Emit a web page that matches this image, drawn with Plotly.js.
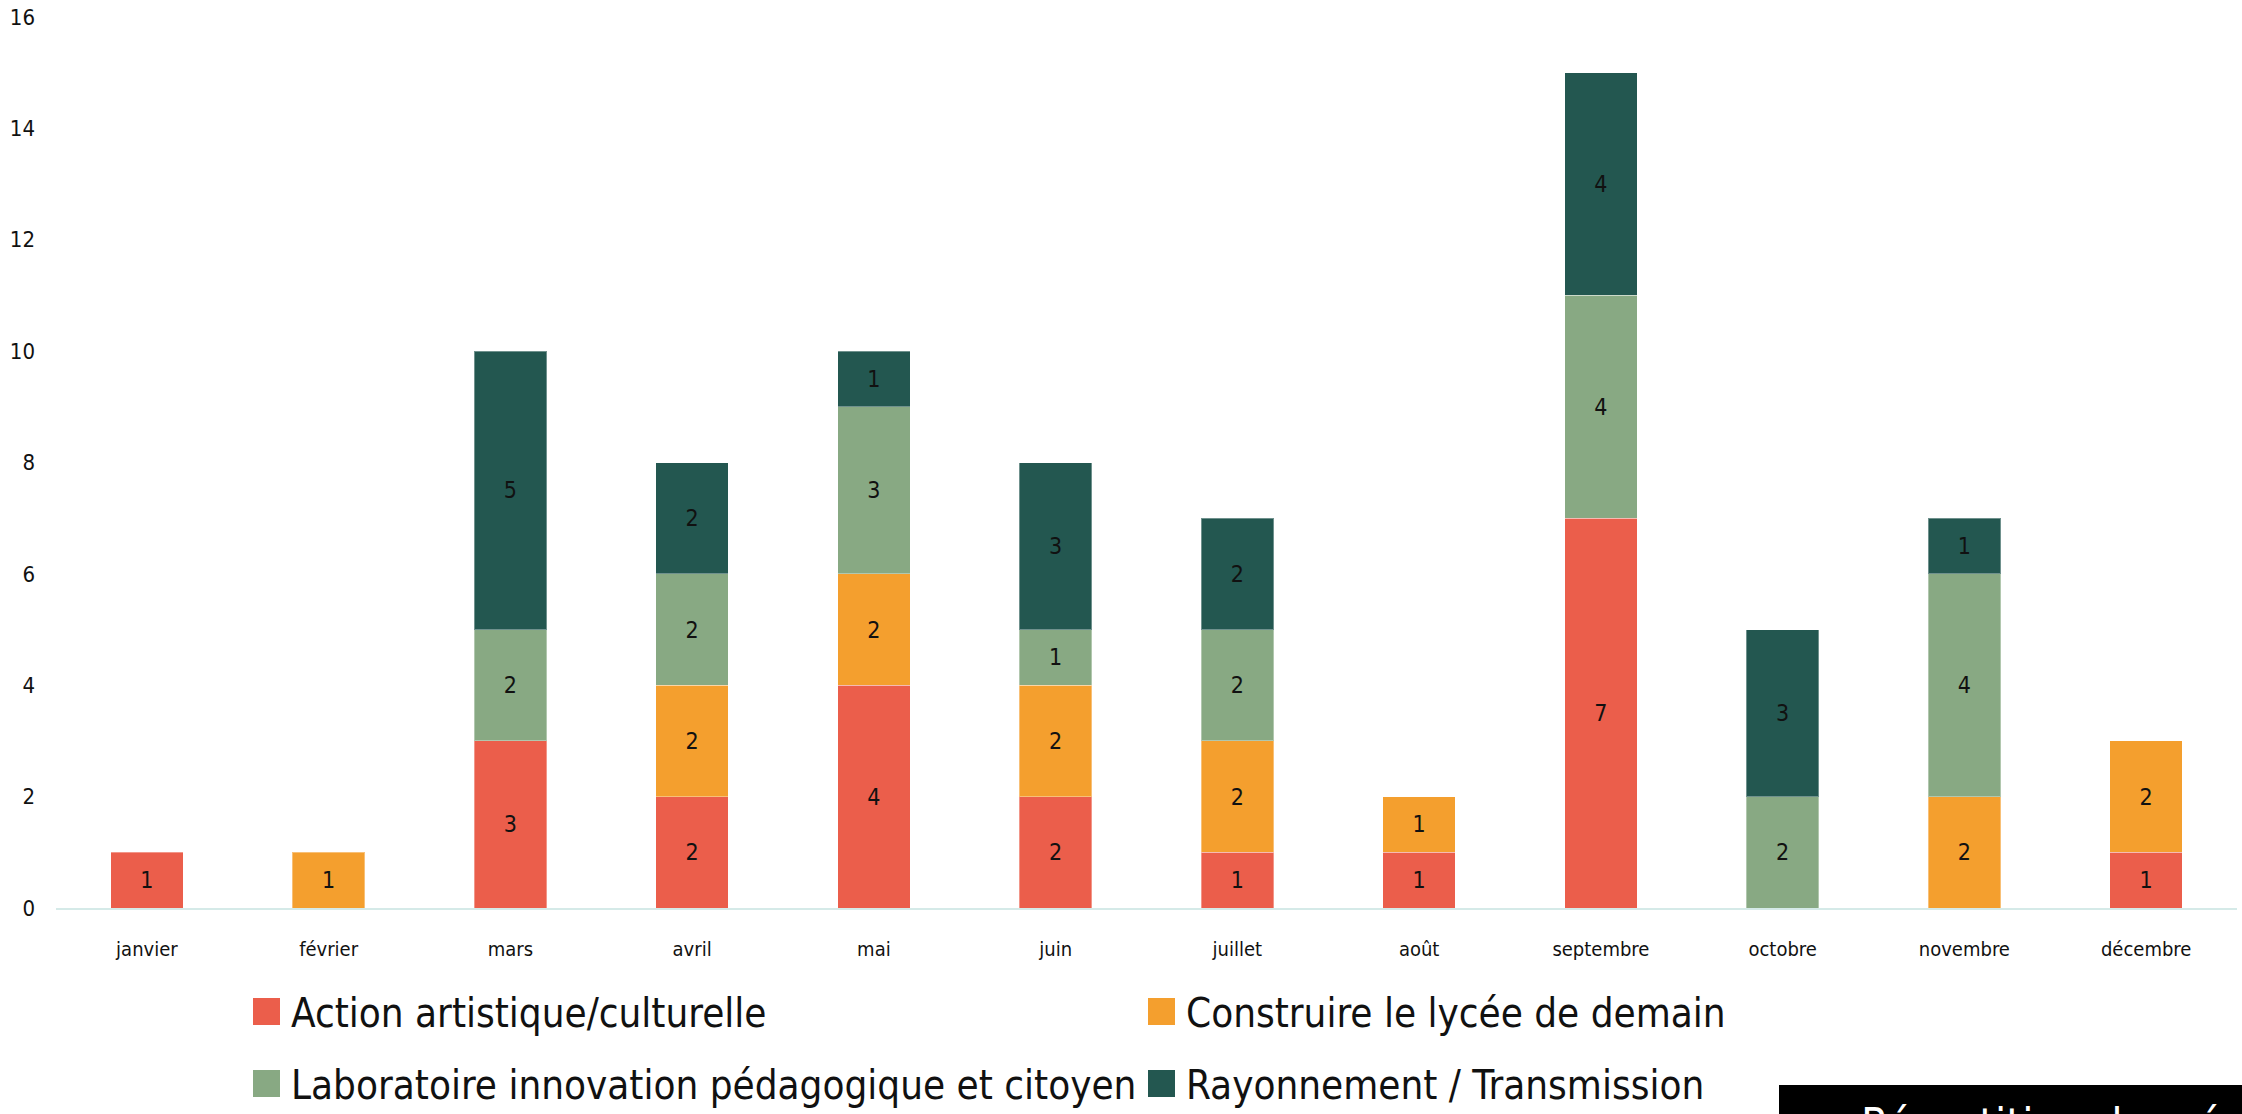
<!DOCTYPE html>
<html>
<head>
<meta charset="utf-8">
<script src="https://cdn.plot.ly/plotly-3.0.1.min.js"></script>
<style>html,body{margin:0;padding:0;background:#fff;}#chart{width:2242px;height:1114px;}</style>
</head>
<body>
<div id="chart"></div>
<script>
const months = ["janvier","février","mars","avril","mai","juin","juillet","août","septembre","octobre","novembre","décembre"];
const seriesNames = ["Action artistique/culturelle","Construire le lycée de demain","Laboratoire innovation pédagogique et citoyen","Rayonnement / Transmission"];
const actionArtistique = [1,null,3,2,4,2,1,1,7,null,null,1];
const construireLycee = [null,1,null,2,2,2,2,1,null,null,2,2];
const laboratoire = [null,null,2,2,3,1,2,null,4,2,4,null];
const rayonnement = [null,null,5,2,1,3,2,null,4,3,1,null];
const seriesColors = ["#EB5E4B","#F49F2E","#88A983","#235750"];
const yTickValues = [0,2,4,6,8,10,12,14,16];
const boxTitle = "Répartition des réalisations par mois";

const FONT = "'DejaVu Sans Condensed', 'DejaVu Sans', sans-serif";
const W = 2242, H = 1114;
const M = {l:56, r:5, t:17, b:206};
const PW = W - M.l - M.r, PH = H - M.t - M.b;
const px = x => (x - M.l) / PW;
const py = y => (H - M.b - y) / PH;

const seriesValues = [actionArtistique, construireLycee, laboratoire, rayonnement];
const traces = seriesValues.map((vals, i) => ({
  type: 'bar',
  name: seriesNames[i],
  x: months,
  y: vals,
  marker: {color: seriesColors[i], line: {color: 'rgba(255,255,255,0.35)', width: 1}},
  texttemplate: '%{y}',
  textposition: 'inside',
  insidetextanchor: 'middle',
  textangle: 0,
  constraintext: 'none',
  textfont: {family: FONT, size: 23, color: '#111'},
  showlegend: false,
  hoverinfo: 'x+y+name'
}));

const shapes = [];
const annotations = [];
// manual legend (2 columns x 2 rows)
const legendPos = [
  {mx: 253, cy: 1011}, {mx: 1148, cy: 1011},
  {mx: 253, cy: 1083}, {mx: 1148, cy: 1083}
];
seriesNames.forEach((n, i) => {
  const p = legendPos[i];
  shapes.push({type:'rect', xref:'paper', yref:'paper',
    x0: px(p.mx), x1: px(p.mx + 27), y0: py(p.cy - 13), y1: py(p.cy + 14),
    fillcolor: seriesColors[i], line: {width: 0}});
  annotations.push({xref:'paper', yref:'paper', x: px(p.mx + 36), y: py(p.cy + 2),
    xanchor:'left', yanchor:'middle', showarrow:false, text: n,
    font:{family: FONT, size: 40, color:'#111'}});
});
// black title box at bottom right (cut by page edge)
shapes.push({type:'rect', xref:'paper', yref:'paper',
  x0: px(1779), x1: px(2260), y0: py(1085), y1: py(1160),
  fillcolor:'#000', line:{width:0}});
annotations.push({xref:'paper', yref:'paper', x: px(1859), y: py(1096),
  xanchor:'left', yanchor:'top', showarrow:false, text: boxTitle,
  font:{family: FONT, size: 45, color:'#fff'}});

const layout = {
  width: W, height: H,
  margin: M,
  paper_bgcolor: '#fff', plot_bgcolor: '#fff',
  barmode: 'stack',
  bargap: 0.6,
  showlegend: false,
  font: {family: FONT, color: '#111'},
  xaxis: {
    type: 'category',
    showgrid: false, zeroline: false,
    showline: true, linecolor: '#d5eae8', linewidth: 2,
    ticks: '', ticklabelstandoff: 22,
    tickfont: {family: FONT, size: 20, color: '#111'}
  },
  yaxis: {
    range: [0, 16],
    tickvals: yTickValues,
    showgrid: false, zeroline: false, showline: false,
    ticks: '', ticklabelstandoff: 20,
    tickfont: {family: FONT, size: 22, color: '#111'}
  },
  shapes: shapes,
  annotations: annotations
};

Plotly.newPlot('chart', traces, layout, {displayModeBar: false, staticPlot: true});
</script>
</body>
</html>
